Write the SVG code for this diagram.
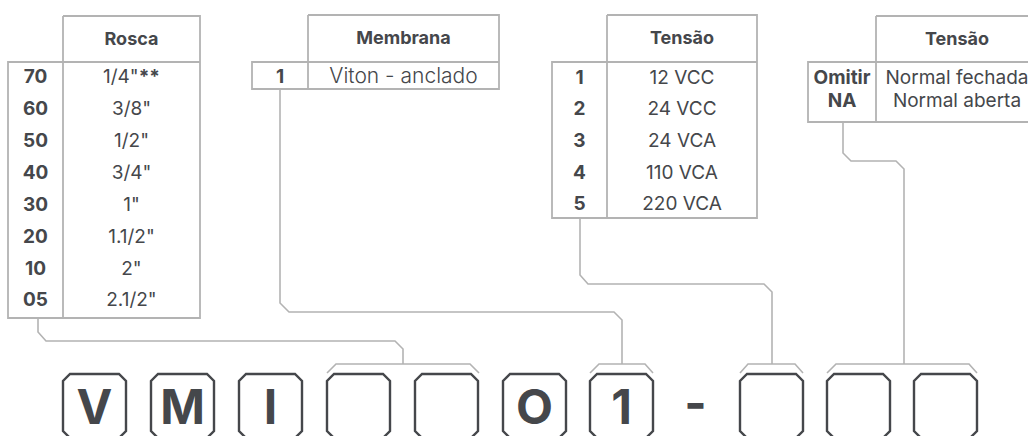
<svg xmlns="http://www.w3.org/2000/svg" xmlns:xlink="http://www.w3.org/1999/xlink" width="1028" height="436" viewBox="0 0 1028 436">
<style>
.tb{fill:none;stroke:#b3b3b3;stroke-width:1.8}
.cn{fill:none;stroke:#b3b3b3;stroke-width:1.6;stroke-linejoin:miter}
.bx{fill:none;stroke:#45474b;stroke-width:2.4;stroke-linejoin:miter}
text{font-family:Inter,"Liberation Sans",sans-serif;fill:#45474b;text-anchor:middle}
.h{font-size:18px;font-weight:700}
.k{font-size:19px;font-weight:700}
.v{font-size:19px;font-weight:400}
.big{font-size:48px;font-weight:700}
</style>
<defs>
<path id="box" d="M7,0 H56 L63,7 V57 L56,64 H7 L0,57 V7 Z"/>
</defs>
<rect width="1028" height="436" fill="#ffffff"/>

<g id="table-rosca">
<path class="tb" d="M63,16 H200 V318 H8 V62 H200 M63,16 V318"/>
<text class="h" x="131.5" y="45">Rosca</text>
<text class="k" x="35.5" y="83">70</text><text class="v" x="131.5" y="83">1/4"<tspan font-weight="700">**</tspan></text>
<text class="k" x="35.5" y="115">60</text><text class="v" x="131.5" y="115">3/8"</text>
<text class="k" x="35.5" y="147">50</text><text class="v" x="131.5" y="147">1/2"</text>
<text class="k" x="35.5" y="179">40</text><text class="v" x="131.5" y="179">3/4"</text>
<text class="k" x="35.5" y="211">30</text><text class="v" x="131.5" y="211">1"</text>
<text class="k" x="35.5" y="243">20</text><text class="v" x="131.5" y="243">1.1/2"</text>
<text class="k" x="35.5" y="275">10</text><text class="v" x="131.5" y="275">2"</text>
<text class="k" x="35.5" y="306">05</text><text class="v" x="131.5" y="306">2.1/2"</text>
</g>

<g id="table-membrana">
<path class="tb" d="M308,15 H499 V89 H252 V62 H499 M308,15 V89"/>
<text class="h" x="403.5" y="44">Membrana</text>
<text class="k" x="280" y="83">1</text>
<text class="v" x="403.5" y="83" style="font-size:21px;font-weight:300">Viton - anclado</text>
</g>

<g id="table-tensao">
<path class="tb" d="M607,15 H757 V218 H552 V62 H757 M607,15 V218"/>
<text class="h" x="682" y="44">Tensão</text>
<text class="k" x="579.5" y="84">1</text><text class="v" x="682" y="84">12 VCC</text>
<text class="k" x="579.5" y="115">2</text><text class="v" x="682" y="115">24 VCC</text>
<text class="k" x="579.5" y="147">3</text><text class="v" x="682" y="147">24 VCA</text>
<text class="k" x="579.5" y="179">4</text><text class="v" x="682" y="179">110 VCA</text>
<text class="k" x="579.5" y="210">5</text><text class="v" x="682" y="210">220 VCA</text>
</g>

<g id="table-tensao-2">
<path class="tb" d="M876,16 H1040 M1040,122 H808 V62 H1040 M876,16 V122"/>
<text class="h" x="957" y="45">Tensão</text>
<text class="k" x="842" y="84">Omitir</text><text class="v" x="957" y="84">Normal fechada</text>
<text class="k" x="842" y="106.5">NA</text><text class="v" x="957" y="106.5">Normal aberta</text>
</g>

<g id="connectors">
<path class="cn" d="M38,318 V332 L46,341 H395 L403,349 V364"/>
<path class="cn" d="M327,373 L336,364 H470 L479,373"/>
<path class="cn" d="M280,89 V303 L289,312 H614 L622,320 V364"/>
<path class="cn" d="M590,373 L599,364 H645 L653,373"/>
<path class="cn" d="M580,218 V275 L588,284 H764 L772,292 V364"/>
<path class="cn" d="M740,373 L748,364 H795 L803,373"/>
<path class="cn" d="M843,122 V153 L851,161 H896 L904,169 V364"/>
<path class="cn" d="M827,373 L836,364 H969 L977,373"/>
</g>

<g id="code-V"><use href="#box" class="bx" x="63" y="374"/><text class="big" x="94.5" y="424">V</text></g>
<g id="code-M"><use href="#box" class="bx" x="151" y="374"/><text class="big" x="182.5" y="424">M</text></g>
<g id="code-I"><use href="#box" class="bx" x="239" y="374"/><text class="big" x="270.5" y="424">I</text></g>
<g id="code-rosca-1"><use href="#box" class="bx" x="327" y="374"/></g>
<g id="code-rosca-2"><use href="#box" class="bx" x="415" y="374"/></g>
<g id="code-O"><use href="#box" class="bx" x="503" y="374"/><text class="big" x="534.5" y="424">O</text></g>
<g id="code-1"><use href="#box" class="bx" x="590" y="374"/><text class="big" x="621.5" y="424">1</text></g>
<g id="code-dash"><text class="big" x="695.5" y="420">-</text></g>
<g id="code-tensao"><use href="#box" class="bx" x="740" y="374"/></g>
<g id="code-tensao2-1"><use href="#box" class="bx" x="827" y="374"/></g>
<g id="code-tensao2-2"><use href="#box" class="bx" x="914" y="374"/></g>
</svg>
